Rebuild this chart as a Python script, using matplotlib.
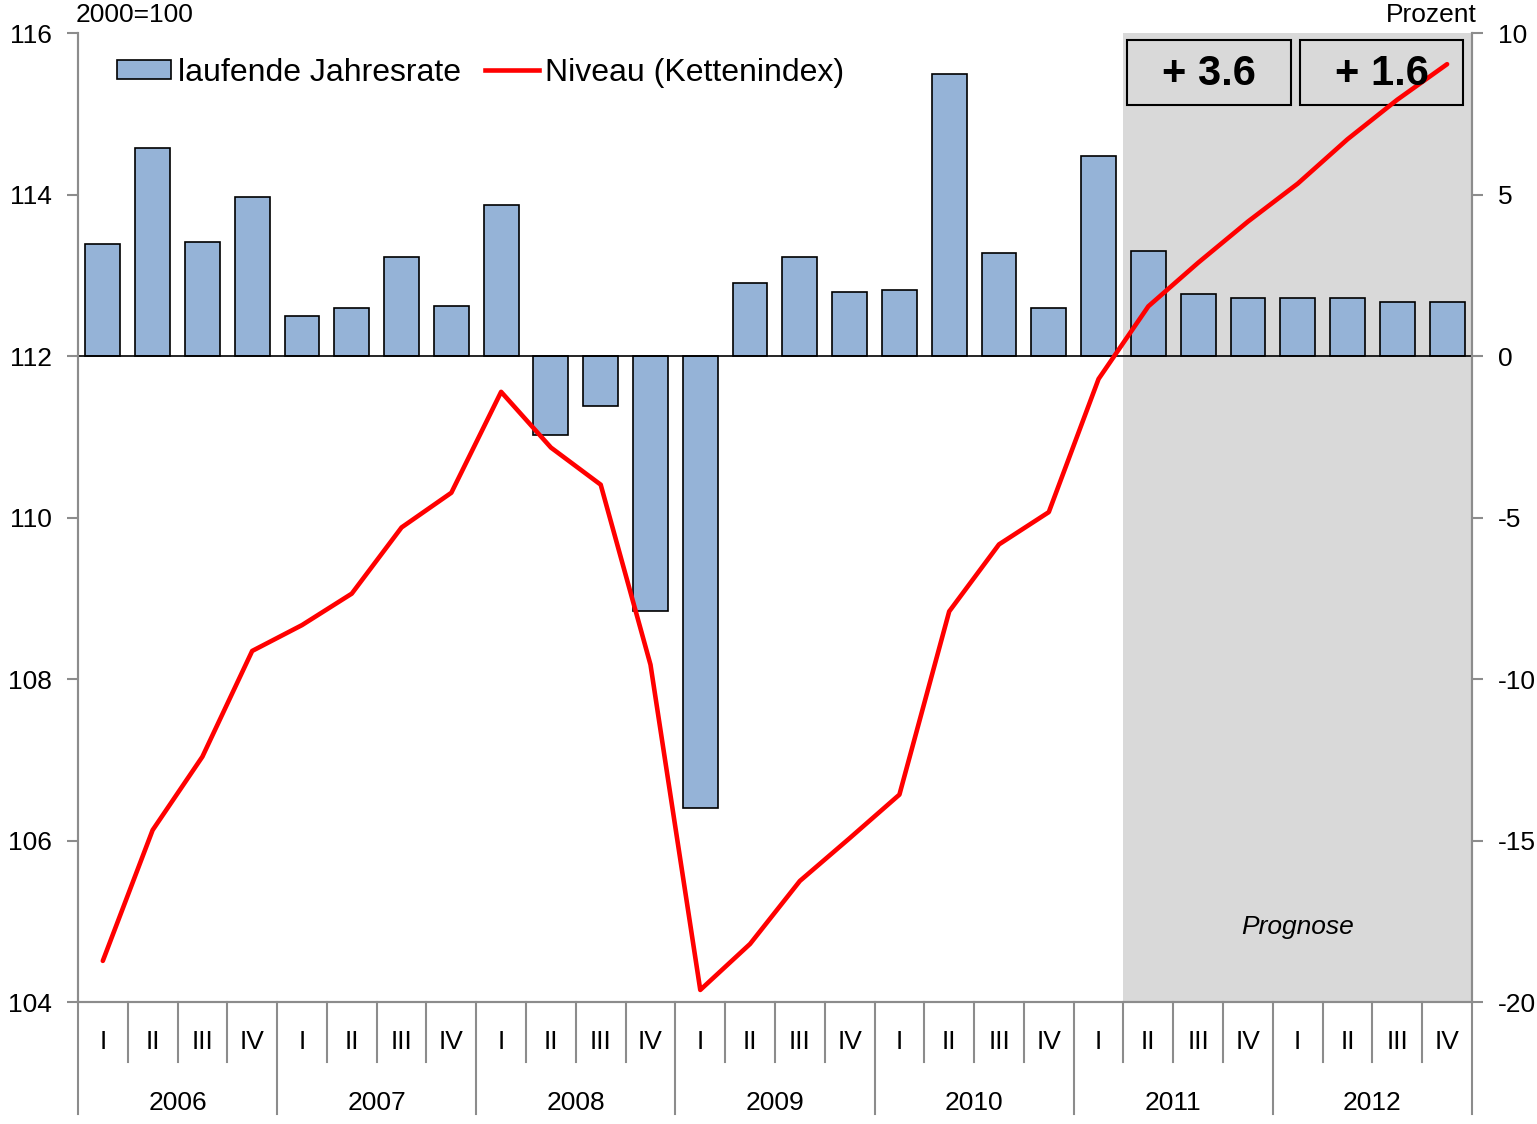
import numpy as np
import matplotlib
matplotlib.use("Agg")
import matplotlib.pyplot as plt
from matplotlib.patches import Patch, Rectangle
from matplotlib.lines import Line2D

plt.rcParams['font.family'] = ['Liberation Sans', 'DejaVu Sans']

years = ["2006", "2007", "2008", "2009", "2010", "2011", "2012"]
quarters = ["I", "II", "III", "IV"]

# laufende Jahresrate (Prozent, rechte Achse)
rate = [3.47, 6.45, 3.53, 4.93,
        1.24, 1.49, 3.07, 1.55,
        4.68, -2.45, -1.55, -7.90,
        -14.0, 2.26, 3.07, 1.98,
        2.05, 8.74, 3.19, 1.49,
        6.20, 3.25, 1.92, 1.80,
        1.80, 1.80, 1.67, 1.67]

# Niveau (Kettenindex, 2000=100, linke Achse)
niveau = [104.51, 106.13, 107.04, 108.35,
          108.67, 109.06, 109.88, 110.31,
          111.56, 110.87, 110.41, 108.18,
          104.15, 104.72, 105.50, 106.03,
          106.57, 108.84, 109.67, 110.07,
          111.72, 112.62, 113.16, 113.67,
          114.14, 114.69, 115.18, 115.62]

forecast_start = 21  # 2011 II
annual = ["+ 3.6", "+ 1.6"]

n = len(rate)
x = np.arange(n)
gray = "#8c8c8c"
fs = 19

fig = plt.figure(figsize=(15.37, 11.24), dpi=100)
ax = fig.add_axes([0.0507, 0.1085, 0.907, 0.8617])
ax2 = ax.twinx()

# bars on the host axis (right ticks), line on twin (left ticks) so line is on top
ax.axvspan(forecast_start - 0.5, n - 0.5, color="#d9d9d9", zorder=0, lw=0)
ax.bar(x, rate, width=0.7, color="#95b3d7", edgecolor="black", linewidth=1.2, zorder=2)
ax.set_ylim(-20, 10)
ax.set_yticks([-20, -15, -10, -5, 0, 5, 10])
ax.set_yticklabels(["-20", "-15", "-10", "-5", "0", "5", "10"])
ax.axhline(0, color="black", lw=1.2, zorder=3)
ax.yaxis.tick_right()
ax.set_xlim(-0.5, n - 0.5)

ax2.plot(x, niveau, color="#ff0000", lw=3.3, zorder=5, solid_capstyle="round")
ax2.set_ylim(104, 116)
ax2.set_yticks([104, 106, 108, 110, 112, 114, 116])
ax2.yaxis.tick_left()

for a in (ax, ax2):
    a.spines["top"].set_visible(False)
    for s in ("left", "right", "bottom"):
        a.spines[s].set_color(gray)
        a.spines[s].set_linewidth(1.5)
    a.tick_params(axis="y", colors=gray, labelcolor="black", labelsize=fs,
                  length=8, width=1.5, pad=11)
ax.set_xticks([])
ax2.set_xticks([])

# two-level category axis
trans = ax.get_xaxis_transform()
for i in range(n):
    ax.text(x[i], -0.041, quarters[i % 4], transform=trans, ha="center", va="center",
            fontsize=fs)
for i in range(n + 1):
    xb = i - 0.5
    y_end = -0.1155 if i % 4 == 0 else -0.062
    ax.add_line(Line2D([xb, xb], [0, y_end], transform=trans, color=gray, lw=1.5,
                       clip_on=False))
for j, yr in enumerate(years):
    ax.text(j * 4 + 1.5, -0.104, yr, transform=trans, ha="center", va="center",
            fontsize=fs)

# annual growth boxes
box_x = [(forecast_start - 0.5 + 0.08, 3.28), (forecast_start - 0.5 + 3.55, 3.27)]
for (bx, bw), lab in zip(box_x, annual):
    ax.add_patch(Rectangle((bx, 7.8), bw, 2.0, fill=False, edgecolor="black",
                           lw=1.5, zorder=6))
    ax2.text(bx + bw / 2, 0.958, lab, transform=ax2.get_xaxis_transform(),
             ha="center", va="center", fontsize=30, fontweight="bold", zorder=7)

ax2.text(24.0, 0.0775, "Prognose", transform=ax2.get_xaxis_transform(), ha="center",
         va="center", fontsize=fs, style="italic")

fig.text(0.049, 0.987, "2000=100", ha="left", va="center", fontsize=fs)
fig.text(0.961, 0.987, "Prozent", ha="right", va="center", fontsize=fs)

handles = [Patch(facecolor="#95b3d7", edgecolor="black", linewidth=1.2),
           Line2D([0], [0], color="#ff0000", lw=3.3)]
ax2.legend(handles, ["laufende Jahresrate", "Niveau (Kettenindex)"], loc="upper left",
           bbox_to_anchor=(0.012, 0.998), ncol=2, frameon=False, fontsize=23,
           handlelength=1.7, handleheight=0.55, handletextpad=0.2,
           columnspacing=0.75, borderaxespad=0.3)

fig.savefig("out.png", dpi=100)
